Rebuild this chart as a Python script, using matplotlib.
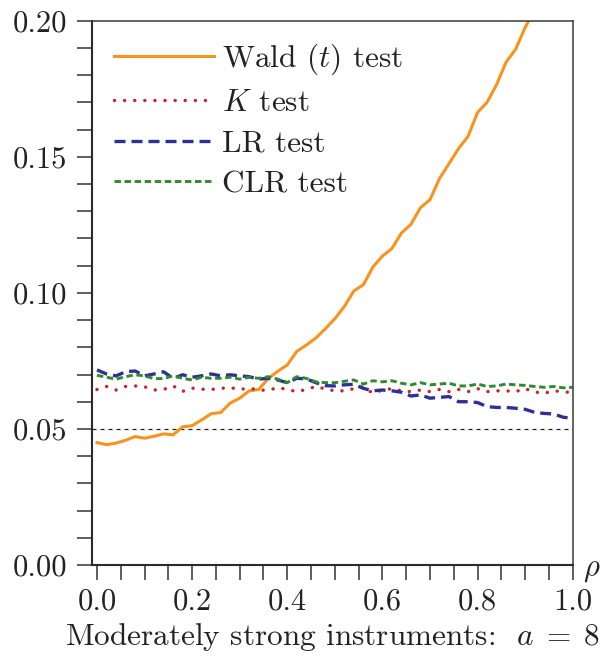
import matplotlib
matplotlib.use("Agg")
import matplotlib.pyplot as plt
from matplotlib.ticker import FixedLocator, FixedFormatter

plt.rcParams["font.family"] = "cmr10"
plt.rcParams["mathtext.fontset"] = "cm"
plt.rcParams["axes.formatter.use_mathtext"] = True

# rejection frequencies against rho (step 0.02)
rho = [i / 50 for i in range(51)]

wald = [0.0450, 0.0442, 0.0448, 0.0458, 0.0472, 0.0466, 0.0473, 0.0482, 0.0478, 0.0508,
        0.0512, 0.0533, 0.0556, 0.0560, 0.0595, 0.0613, 0.0640, 0.0645, 0.0685, 0.0712,
        0.0735, 0.0785, 0.0808, 0.0834, 0.0868, 0.0905, 0.0950, 0.1007, 0.1030, 0.1095,
        0.1135, 0.1163, 0.1220, 0.1252, 0.1313, 0.1342, 0.1420, 0.1475, 0.1530, 0.1575,
        0.1663, 0.1700, 0.1765, 0.1848, 0.1895, 0.1975, 0.2040]

k_test = [0.0645, 0.0656, 0.0643, 0.0656, 0.0658, 0.0655, 0.0643, 0.0645, 0.0658, 0.0638,
          0.0650, 0.0646, 0.0645, 0.0649, 0.0652, 0.0645, 0.0650, 0.0643, 0.0642, 0.0652,
          0.0645, 0.0637, 0.0645, 0.0656, 0.0647, 0.0640, 0.0640, 0.0648, 0.0655, 0.0631,
          0.0643, 0.0648, 0.0640, 0.0637, 0.0643, 0.0637, 0.0645, 0.0637, 0.0645, 0.0637,
          0.0648, 0.0637, 0.0640, 0.0640, 0.0637, 0.0648, 0.0636, 0.0631, 0.0640, 0.0637,
          0.0633]

lr_test = [0.0717, 0.0702, 0.0695, 0.0710, 0.0713, 0.0695, 0.0702, 0.0710, 0.0686, 0.0699,
           0.0690, 0.0695, 0.0702, 0.0695, 0.0699, 0.0695, 0.0692, 0.0683, 0.0686, 0.0680,
           0.0670, 0.0686, 0.0684, 0.0670, 0.0659, 0.0658, 0.0662, 0.0664, 0.0649, 0.0640,
           0.0643, 0.0640, 0.0635, 0.0621, 0.0625, 0.0613, 0.0616, 0.0619, 0.0600, 0.0600,
           0.0597, 0.0582, 0.0579, 0.0579, 0.0576, 0.0572, 0.0561, 0.0557, 0.0555, 0.0543,
           0.0539]

clr_test = [0.0697, 0.0690, 0.0683, 0.0692, 0.0699, 0.0695, 0.0685, 0.0685, 0.0695, 0.0686,
            0.0680, 0.0690, 0.0686, 0.0686, 0.0690, 0.0683, 0.0690, 0.0686, 0.0692, 0.0683,
            0.0670, 0.0692, 0.0686, 0.0673, 0.0670, 0.0670, 0.0675, 0.0680, 0.0665, 0.0677,
            0.0673, 0.0677, 0.0668, 0.0662, 0.0670, 0.0662, 0.0665, 0.0668, 0.0658, 0.0658,
            0.0665, 0.0656, 0.0658, 0.0665, 0.0662, 0.0660, 0.0656, 0.0653, 0.0656, 0.0651,
            0.0653]

nominal = 0.05

fig = plt.figure(figsize=(6.0, 6.57), dpi=100)
ax = fig.add_axes([0.1533, 0.140, 0.8012, 0.8285])

ax.axhline(nominal, color="#222222", lw=0.9, dashes=(3.2, 3.2))

ax.plot(rho[:len(wald)], wald, color="#F7931E", lw=2.2, label="Wald $(t)$ test",
        solid_joinstyle="round")
ax.plot(rho, k_test, color="#C1272D", lw=2.5, dashes=(0.01, 2.9),
        dash_capstyle="round", label="$K$ test")
ax.plot(rho, lr_test, color="#2E3192", lw=2.4, dashes=(3.3, 1.8), label="LR test")
ax.plot(rho, clr_test, color="#2F8A2F", lw=2.1, dashes=(2.2, 1.25), label="CLR test")

ax.set_xlim(-0.0105, 1.0)
ax.set_ylim(0.0, 0.20)

ax.xaxis.set_major_locator(FixedLocator([i * 0.05 for i in range(21)]))
ax.xaxis.set_major_formatter(FixedFormatter(
    ["%.1f" % (i * 0.05) if i % 4 == 0 else "" for i in range(21)]))
ax.yaxis.set_major_locator(FixedLocator([i * 0.01 for i in range(21)]))
ax.yaxis.set_major_formatter(FixedFormatter(
    ["%.2f" % (i * 0.01) if i % 5 == 0 else "" for i in range(21)]))

ax.tick_params(direction="out", length=10.8, width=1.1, color="#333333",
               labelsize=22, labelcolor="#222222")
ax.tick_params(axis="x", pad=6)
ax.tick_params(axis="y", pad=7)
ax.xaxis.set_ticks_position("bottom")
ax.yaxis.set_ticks_position("left")

for side in ["left", "bottom"]:
    ax.spines[side].set_linewidth(1.5)
    ax.spines[side].set_color("#2b2b2b")
for side in ["top", "right"]:
    ax.spines[side].set_linewidth(1.1)
    ax.spines[side].set_color("#3a3a3a")

ax.set_xlabel(r"Moderately strong instruments:  $a\;=\;8$", fontsize=22.5,
              color="#222222", labelpad=4)
ax.text(1.022, -0.01, r"$\rho$", transform=ax.transAxes, fontsize=22,
        ha="left", va="center", color="#222222")

leg = ax.legend(loc="upper left", bbox_to_anchor=(0.0458, 0.962), frameon=False,
                fontsize=22.5, borderpad=0, borderaxespad=0, handlelength=3.2,
                handletextpad=0.25, labelspacing=0.4)
for t in leg.get_texts():
    t.set_color("#222222")

fig.savefig("out.png", dpi=100)
